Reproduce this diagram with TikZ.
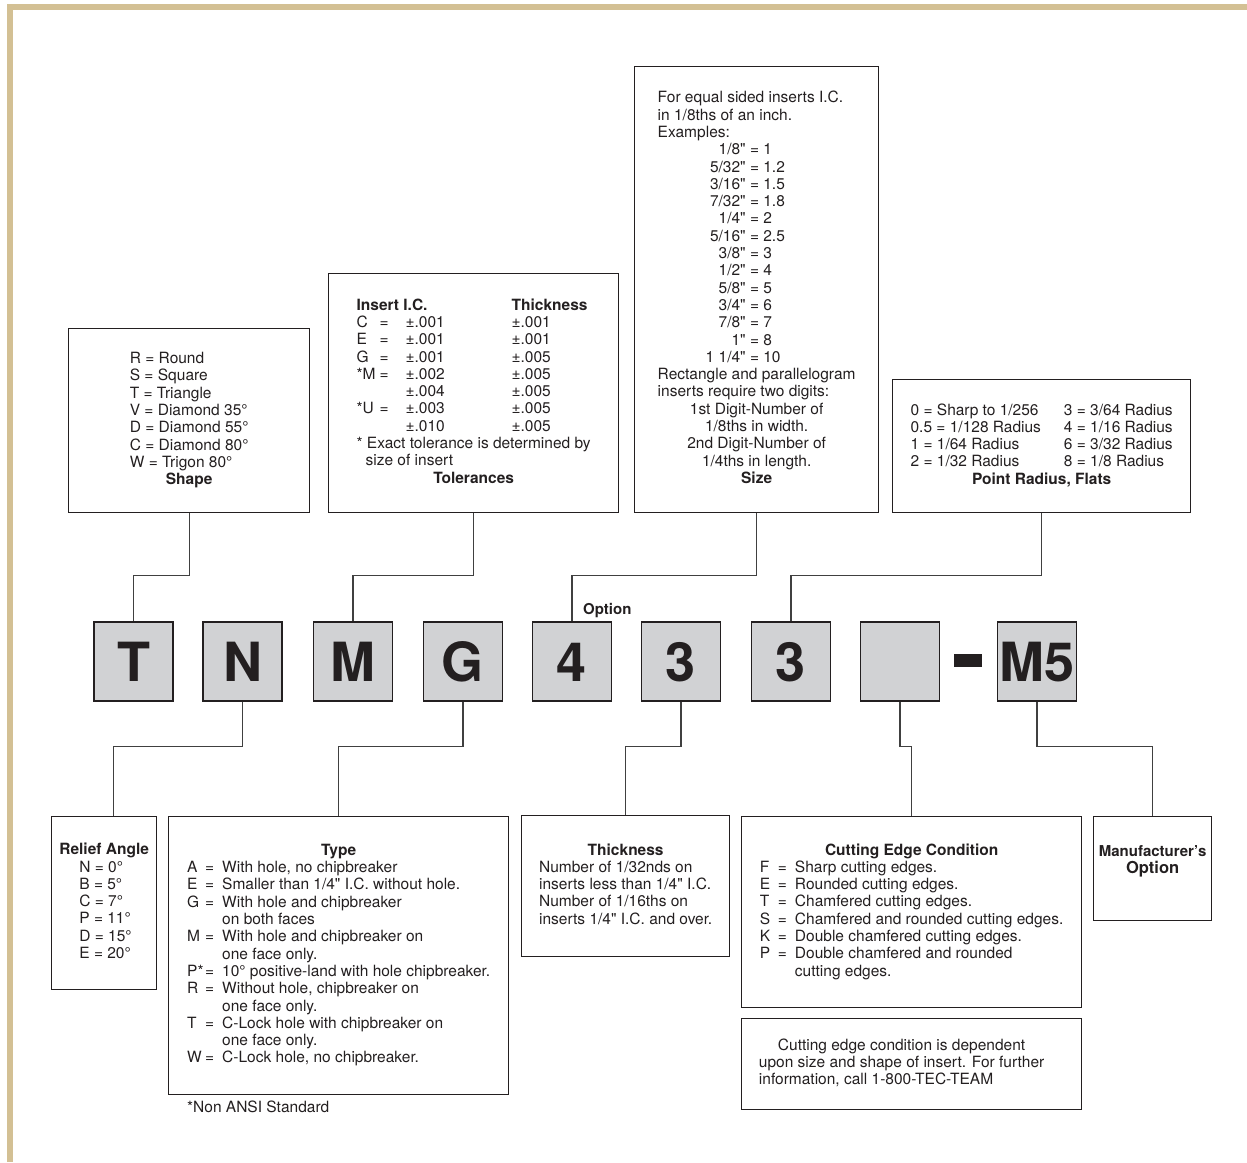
\documentclass[tikz,border=0pt]{standalone}
\usepackage{fontspec}
\setmainfont{TeX Gyre Heros}[Ligatures=TeXOff]
\usepackage{array}
\definecolor{frametan}{RGB}{211,192,148}
\definecolor{keyfill}{RGB}{209,210,212}
\definecolor{ink}{RGB}{35,31,32}
\newcommand{\kv}[2]{#1 & = & #2}

\begin{document}
\begin{tikzpicture}[x=1pt, y=-1pt, font=\fontsize{15.5}{17.3}\selectfont, text=ink,
    panel/.style={draw=ink, line width=1.3pt, anchor=north west, inner sep=0pt},
    key/.style={draw=ink, line width=1.4pt, fill=keyfill, minimum size=79pt, inner sep=0pt,
        text height=39pt, text depth=0pt, font=\fontsize{54}{54}\selectfont\bfseries},
    link/.style={draw=black!75, line width=1.2pt}]
    \useasboundingbox (0,0) rectangle (1247,1162);
    \fill[frametan] (7,4) rectangle (1247,10);
    \fill[frametan] (7,4) rectangle (13,1162);

    \node[panel, minimum width=241pt, minimum height=184pt] (shape) at (68,328) {%
        \begin{tabular}{@{}l@{}}
            R = Round\\ S = Square\\ T = Triangle\\ V = Diamond 35°\\
            D = Diamond 55°\\ C = Diamond 80°\\ W = Trigon 80°\\
            \multicolumn{1}{@{}c@{}}{\bfseries Shape}
        \end{tabular}};
    \node[panel, minimum width=290pt, minimum height=239pt] (tol) at (328,273) {%
        \begin{tabular}{@{}p{23pt}@{}p{26pt}@{}p{106pt}@{}l@{}}
            \multicolumn{3}{@{}l@{}}{\bfseries Insert I.C.} & \bfseries Thickness\\
            C & = & ±.001 & ±.001\\
            E & = & ±.001 & ±.001\\
            G & = & ±.001 & ±.005\\
            {*}M & = & ±.002 & ±.005\\
            & & ±.004 & ±.005\\
            {*}U & = & ±.003 & ±.005\\
            & & ±.010 & ±.005\\
            \multicolumn{4}{@{}l@{}}{{*} Exact tolerance is determined by}\\
            \multicolumn{4}{@{}l@{}}{\hspace*{9pt}size of insert}\\
            \multicolumn{4}{@{}c@{}}{\bfseries Tolerances}
        \end{tabular}};
    \node[panel, minimum width=244pt, minimum height=446pt] (size) at (634,66) {%
        \begin{tabular}{@{}l@{}r@{\ =\ }l@{}}
            \multicolumn{3}{@{}l@{}}{For equal sided inserts I.C.}\\
            \multicolumn{3}{@{}l@{}}{in 1/8ths of an inch.}\\
            \multicolumn{3}{@{}l@{}}{Examples:}\\
            \hspace*{48pt} & 1/8" & 1\\
            & 5/32" & 1.2\\
            & 3/16" & 1.5\\
            & 7/32" & 1.8\\
            & 1/4" & 2\\
            & 5/16" & 2.5\\
            & 3/8" & 3\\
            & 1/2" & 4\\
            & 5/8" & 5\\
            & 3/4" & 6\\
            & 7/8" & 7\\
            & 1" & 8\\
            & 1 1/4" & 10\\
            \multicolumn{3}{@{}l@{}}{Rectangle and parallelogram}\\
            \multicolumn{3}{@{}l@{}}{inserts require two digits:}\\
            \multicolumn{3}{@{}c@{}}{1st Digit-Number of}\\
            \multicolumn{3}{@{}c@{}}{1/8ths in width.}\\
            \multicolumn{3}{@{}c@{}}{2nd Digit-Number of}\\
            \multicolumn{3}{@{}c@{}}{1/4ths in length.}\\
            \multicolumn{3}{@{}c@{}}{\bfseries Size}
        \end{tabular}};
    \node[panel, minimum width=298pt, minimum height=133pt] (radius) at (892,379) {%
        \begin{tabular}{@{}l@{\hspace{23pt}}l@{}}
            0 = Sharp to 1/256 & 3 = 3/64 Radius\\
            0.5 = 1/128 Radius & 4 = 1/16 Radius\\
            1 = 1/64 Radius & 6 = 3/32 Radius\\
            2 = 1/32 Radius & 8 = 1/8 Radius\\
            \multicolumn{2}{@{}c@{}}{\bfseries Point Radius, Flats}
        \end{tabular}};

    \node[key] (cshape) at (133.5,661.5) {T};
    \node[key] (crelief) at (242.5,661.5) {N};
    \node[key] (ctol) at (353,661.5) {M};
    \node[key] (ctype) at (463,661.5) {G};
    \node[key] (csize) at (572,661.5) {4};
    \node[key] (cthick) at (681,661.5) {3};
    \node[key] (cradius) at (791,661.5) {3};
    \node[key] (cedge) at (900,661.5) {};
    \node[fill=ink, minimum width=28pt, minimum height=13pt, inner sep=0pt] (dash) at (968,660.5) {};
    \node[key] (cmfr) at (1037,661.5) {M5};
    \node[anchor=west, inner sep=0pt, font=\fontsize{15}{17.3}\selectfont\bfseries] (option) at (583,611) {Option};

    \node[panel, minimum width=105pt, minimum height=173pt] (relief) at (51,816) {%
        \begin{tabular}{@{}l@{}}
            \bfseries Relief Angle\\
            \hspace*{20pt}N = 0°\\ \hspace*{20pt}B = 5°\\ \hspace*{20pt}C = 7°\\
            \hspace*{20pt}P = 11°\\ \hspace*{20pt}D = 15°\\ \hspace*{20pt}E = 20°
        \end{tabular}};
    \node[panel, minimum width=340pt, minimum height=278pt] (type) at (168,816) {%
        \begin{tabular}{@{}p{18pt}@{}p{17pt}@{}l@{}}
            \multicolumn{3}{@{}c@{}}{\bfseries Type}\\
            \kv{A}{With hole, no chipbreaker}\\
            \kv{E}{Smaller than 1/4" I.C. without hole.}\\
            \kv{G}{With hole and chipbreaker}\\
            & & on both faces\\
            \kv{M}{With hole and chipbreaker on}\\
            & & one face only.\\
            \kv{P*}{10° positive-land with hole chipbreaker.}\\
            \kv{R}{Without hole, chipbreaker on}\\
            & & one face only.\\
            \kv{T}{C-Lock hole with chipbreaker on}\\
            & & one face only.\\
            \kv{W}{C-Lock hole, no chipbreaker.}
        \end{tabular}};
    \node[anchor=west, inner sep=0pt] (ansi) at (187,1107) {*Non ANSI Standard};
    \node[panel, minimum width=208pt, minimum height=141pt] (thick) at (521,815) {%
        \begin{tabular}{@{}l@{}}
            \multicolumn{1}{@{}c@{}}{\bfseries Thickness}\\
            Number of 1/32nds on\\
            inserts less than 1/4" I.C.\\
            Number of 1/16ths on\\
            inserts 1/4" I.C. and over.
        \end{tabular}};
    \node[panel, minimum width=340pt, minimum height=191pt] (edge) at (741,816) {%
        \begin{tabular}{@{}p{18pt}@{}p{17pt}@{}l@{}}
            \multicolumn{3}{@{}c@{}}{\bfseries Cutting Edge Condition}\\
            \kv{F}{Sharp cutting edges.}\\
            \kv{E}{Rounded cutting edges.}\\
            \kv{T}{Chamfered cutting edges.}\\
            \kv{S}{Chamfered and rounded cutting edges.}\\
            \kv{K}{Double chamfered cutting edges.}\\
            \kv{P}{Double chamfered and rounded}\\
            & & cutting edges.
        \end{tabular}};
    \node[panel] (mfr) at (1093,816) {%
        \parbox[c][104pt][t]{118pt}{\centering\vspace*{29pt}\bfseries
            {\fontsize{15}{17.3}\selectfont Manufacturer’s}\\
            {\fontsize{16.5}{17.3}\selectfont Option}}};
    \node[panel, minimum width=340pt, minimum height=91pt] (note) at (741,1018) {%
        \begin{tabular}{@{}l@{\hspace{20pt}}}
            \hspace*{19pt}Cutting edge condition is dependent\\
            upon size and shape of insert. For further\\
            information, call 1-800-TEC-TEAM
        \end{tabular}};

    \draw[link] (shape.south) -- ++(0,62) -| (cshape.north);
    \draw[link] (tol.south) -- ++(0,62) -| (ctol.north);
    \draw[link] (size.south) -- ++(0,62) -| (csize.north);
    \draw[link] (radius.south) -- ++(0,62) -| (cradius.north);
    \draw[link] (crelief.south) -- ++(0,45) -| ([xshift=9.5pt]relief.north);
    \draw[link] (ctype.south) -- ++(0,45) -| (type.north);
    \draw[link] (cthick.south) -- ++(0,45) -| (thick.north);
    \draw[link] (cedge.south) -- ++(0,45) -| (edge.north);
    \draw[link] (cmfr.south) -- ++(0,45) -| (mfr.north);
\end{tikzpicture}
\end{document}
